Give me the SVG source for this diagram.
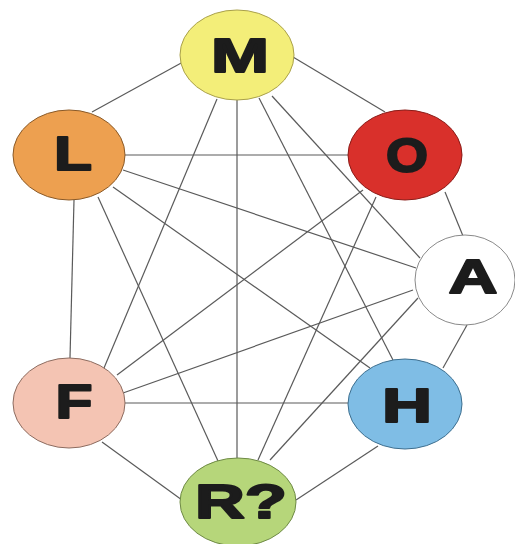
<svg xmlns="http://www.w3.org/2000/svg" width="515" height="544" viewBox="0 0 515 544">
  <style>
    .edge { stroke: #5a5a5a; stroke-width: 1.2; fill: none; }
    .node ellipse { stroke-width: 1; }
    .node text { font-family: "Liberation Sans", Arial, sans-serif; font-weight: 900; font-size: 48px; fill: #1c1c1c; stroke: #1c1c1c; stroke-width: 2; stroke-linejoin: round; }
  </style>
  <rect width="515" height="544" fill="#ffffff"/>

  <g id="connectors">
    <line class="edge" x1="183" y1="62" x2="92" y2="112"/>   <!-- M-L -->
    <line class="edge" x1="293" y1="57" x2="385" y2="112"/>  <!-- M-O -->
    <line class="edge" x1="217" y1="99" x2="104" y2="368"/>  <!-- M-F -->
    <line class="edge" x1="237" y1="100" x2="237" y2="458"/> <!-- M-R -->
    <line class="edge" x1="259" y1="98" x2="393" y2="360"/>  <!-- M-H -->
    <line class="edge" x1="272" y1="96" x2="420" y2="258"/>  <!-- M-A -->
    <line class="edge" x1="125" y1="155" x2="348" y2="155"/> <!-- L-O -->
    <line class="edge" x1="123" y1="170" x2="416" y2="268"/> <!-- L-A -->
    <line class="edge" x1="113" y1="187" x2="370" y2="368"/> <!-- L-H -->
    <line class="edge" x1="98" y1="197" x2="218" y2="461"/>  <!-- L-R -->
    <line class="edge" x1="74" y1="200" x2="70" y2="358"/>   <!-- L-F -->
    <line class="edge" x1="363" y1="190" x2="117" y2="375"/> <!-- O-F -->
    <line class="edge" x1="376" y1="197" x2="258" y2="460"/> <!-- O-R -->
    <line class="edge" x1="445" y1="192" x2="463" y2="236"/> <!-- O-A -->
    <line class="edge" x1="413" y1="290" x2="123" y2="393"/> <!-- A-F -->
    <line class="edge" x1="418" y1="298" x2="270" y2="460"/> <!-- A-R -->
    <line class="edge" x1="467" y1="325" x2="443" y2="368"/> <!-- A-H -->
    <line class="edge" x1="125" y1="403" x2="348" y2="403"/> <!-- F-H -->
    <line class="edge" x1="102" y1="442" x2="182" y2="500"/> <!-- F-R -->
    <line class="edge" x1="378" y1="446" x2="296" y2="500"/> <!-- H-R -->
  </g>

  <g id="node-M" class="node">
    <ellipse cx="237" cy="55" rx="57" ry="45" fill="#f3ee79" stroke="#a9a04a"/>
    <text x="240" y="72" text-anchor="middle" textLength="58" lengthAdjust="spacingAndGlyphs">M</text>
  </g>
  <g id="node-L" class="node">
    <ellipse cx="69" cy="155" rx="56" ry="45" fill="#eda050" stroke="#8a5a28"/>
    <text x="73" y="170" text-anchor="middle" textLength="38" lengthAdjust="spacingAndGlyphs">L</text>
  </g>
  <g id="node-O" class="node">
    <ellipse cx="405" cy="155" rx="57" ry="45" fill="#d9302b" stroke="#8a1c18"/>
    <text x="407" y="172" text-anchor="middle" textLength="42" lengthAdjust="spacingAndGlyphs">O</text>
  </g>
  <g id="node-A" class="node">
    <ellipse cx="465" cy="280" rx="50" ry="45" fill="#ffffff" stroke="#8a8a8a"/>
    <text x="473" y="293" text-anchor="middle" textLength="49" lengthAdjust="spacingAndGlyphs">A</text>
  </g>
  <g id="node-F" class="node">
    <ellipse cx="69" cy="403" rx="56" ry="45" fill="#f4c4b3" stroke="#8d6c60"/>
    <text x="74" y="418" text-anchor="middle" textLength="37" lengthAdjust="spacingAndGlyphs">F</text>
  </g>
  <g id="node-H" class="node">
    <ellipse cx="405" cy="404" rx="57" ry="45" fill="#7fbde5" stroke="#3e6f8f"/>
    <text x="407" y="422" text-anchor="middle" textLength="50" lengthAdjust="spacingAndGlyphs">H</text>
  </g>
  <g id="node-R" class="node">
    <ellipse cx="238" cy="502" rx="58" ry="44" fill="#b6d67a" stroke="#6e8a45"/>
    <text x="241" y="518" text-anchor="middle" textLength="92" lengthAdjust="spacingAndGlyphs">R?</text>
  </g>
</svg>
